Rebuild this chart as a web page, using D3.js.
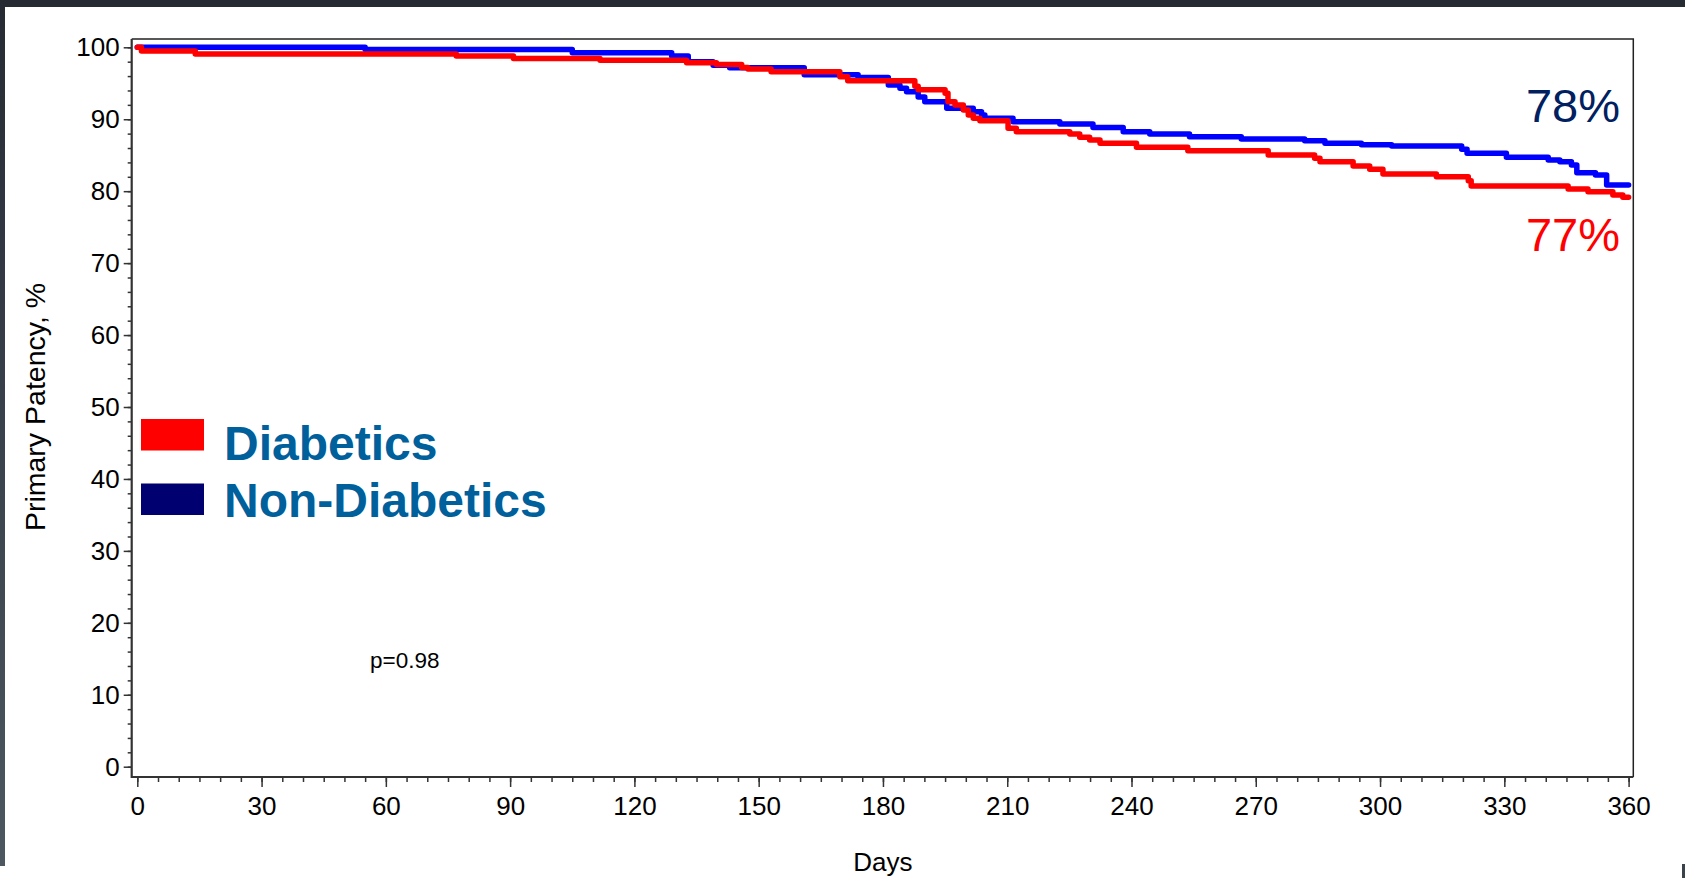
<!DOCTYPE html>
<html>
<head>
<meta charset="utf-8">
<script src="https://cdn.jsdelivr.net/npm/d3@7"></script>
<style>
  html, body { margin: 0; padding: 0; background: #fff; overflow: hidden; }
  svg { display: block; }
  text { font-family: "Liberation Sans", Arial, sans-serif; }
</style>
</head>
<body>
<script>
// tick values
var dayTicks = [0, 30, 60, 90, 120, 150, 180, 210, 240, 270, 300, 330, 360];
var pctTicks = [0, 10, 20, 30, 40, 50, 60, 70, 80, 90, 100];

// Kaplan-Meier steps (day where the step starts, patency %)
var nonDiabeticDays = [0, 55, 105, 129, 133, 139, 143, 161, 174, 181.3, 184.1, 185.7, 188.5, 190.1, 195.4, 201.8, 203.8, 204.6, 211.4, 222.7,
  230.7, 238, 244.4, 254, 266.5, 281.8, 286.7, 295.5, 302.8, 319.7, 321, 330.5, 340.6, 343.4, 346.2, 347.5, 352, 354.7, 360];
var nonDiabeticPct = [100, 99.7, 99.25, 98.8, 98.0, 97.5, 97.15, 96.2, 95.8, 94.76, 94.3, 93.83, 93.1, 92.44, 91.52, 91.05, 90.6, 90.13, 89.66, 89.34,
  88.85, 88.27, 87.95, 87.57, 87.25, 87.0, 86.65, 86.46, 86.28, 85.82, 85.26, 84.7, 84.33, 84.1, 83.64, 82.57, 82.25, 80.86, 80.86];

var diabeticDays = [0, 1, 14, 77, 90.8, 111.7, 132.6, 139.8, 145.9, 147.4, 153, 169.6, 171.5, 187.7, 188.5, 195, 195.7, 197.4, 199.4, 200.6,
  201.8, 203.4, 210.2, 212.2, 225.1, 227.5, 229.9, 232.4, 241.2, 253.6, 273, 284.2, 285.5, 293.5, 297.5, 300.7, 313.6, 321.3, 322, 345.4,
  350.2, 356.2, 358.6, 360];
var diabeticPct = [100, 99.5, 99.07, 98.8, 98.45, 98.2, 97.86, 97.6, 97.2, 97.0, 96.6, 95.9, 95.36, 94.6, 94.1, 93.6, 92.44, 91.98, 91.3, 90.6,
  90.13, 89.8, 88.74, 88.27, 87.95, 87.5, 87.1, 86.65, 86.1, 85.63, 85.03, 84.57, 84.1, 83.5, 83.04, 82.39, 82.0, 81.46, 80.72, 80.3,
  79.93, 79.47, 79.15, 79.15];

var legendNames = ["Diabetics", "Non-Diabetics"];
var legendColors = ["#ff0000", "#000070"];
var endLabels = ["77%", "78%"];
var pValueText = "p=0.98";

var width = 1685, height = 878;

var svg = d3
  .select("body")
  .append("svg")
  .attr("width", width)
  .attr("height", height);

// dark window edges around the slide
var grad = svg.append("defs").append("linearGradient")
  .attr("id", "edge")
  .attr("x1", 0).attr("y1", 0).attr("x2", 0).attr("y2", 1);
grad.append("stop").attr("offset", "0%").attr("stop-color", "#262b33");
grad.append("stop").attr("offset", "100%").attr("stop-color", "#4c5762");
svg.append("rect").attr("x", 0).attr("y", 0).attr("width", width).attr("height", 7).style("fill", "#262b33");
svg.append("rect").attr("x", 0).attr("y", 0).attr("width", 5).attr("height", 866).style("fill", "url(#edge)");
svg.append("rect").attr("x", 1682).attr("y", 864).attr("width", 3).attr("height", 14).style("fill", "#3a424b");

// scales
var x = d3.scaleLinear().domain([0, 360]).range([137.3, 1628.6]);
var y = d3.scaleLinear().domain([0, 100]).range([766.7, 47.3]);

var frame = { left: 131.7, top: 39, right: 1633.3, bottom: 777 };

// top and right border
svg.append("path")
  .attr("d", "M" + frame.left + "," + frame.top + "H" + frame.right + "V" + frame.bottom)
  .style("fill", "none")
  .style("stroke", "#222")
  .style("stroke-width", 1.5);

// y axis: minor then major ticks
svg.append("g")
  .attr("transform", "translate(" + frame.left + ",0)")
  .call(d3.axisLeft(y).tickValues(d3.range(0, 101, 2)).tickSize(4).tickFormat(""))
  .call(function (g) { g.select(".domain").remove(); })
  .selectAll("line").style("stroke", "#333").style("stroke-width", 1.5);

var yAxis = svg.append("g")
  .attr("transform", "translate(" + frame.left + ",0)")
  .call(d3.axisLeft(y).tickValues(pctTicks).tickSize(8).tickPadding(4))
  .call(function (g) { g.select(".domain").remove(); });
yAxis.selectAll("line").style("stroke", "#333").style("stroke-width", 1.5);
yAxis.selectAll("text")
  .style("font-family", "'Liberation Sans', Arial, sans-serif")
  .style("font-size", "26px")
  .style("fill", "#000");

// x axis
svg.append("g")
  .attr("transform", "translate(0," + frame.bottom + ")")
  .call(d3.axisBottom(x).tickValues(d3.range(0, 361, 5)).tickSize(5).tickFormat(""))
  .call(function (g) { g.select(".domain").remove(); })
  .selectAll("line").style("stroke", "#333").style("stroke-width", 1.5);

var xAxis = svg.append("g")
  .attr("transform", "translate(0," + frame.bottom + ")")
  .call(d3.axisBottom(x).tickValues(dayTicks).tickSize(10).tickPadding(10))
  .call(function (g) { g.select(".domain").remove(); });
xAxis.selectAll("line").style("stroke", "#333").style("stroke-width", 1.5);
xAxis.selectAll("text")
  .style("font-family", "'Liberation Sans', Arial, sans-serif")
  .style("font-size", "26px")
  .style("fill", "#000");

// left and bottom axis lines
svg.append("path")
  .attr("d", "M" + frame.left + "," + frame.top + "V" + frame.bottom + "H" + frame.right)
  .style("fill", "none")
  .style("stroke", "#333")
  .style("stroke-width", 2.2);

// axis titles
svg.append("text")
  .attr("x", x(180))
  .attr("y", 871)
  .style("text-anchor", "middle")
  .style("font-size", "26px")
  .text("Days");

svg.append("text")
  .attr("transform", "translate(45," + (y(50)) + ") rotate(-90)")
  .style("text-anchor", "middle")
  .style("font-size", "28.5px")
  .text("Primary Patency, %");

// survival curves
var line = d3.line()
  .x(function (d) { return x(d[0]); })
  .y(function (d) { return y(d[1]); })
  .curve(d3.curveStepAfter);

svg.append("path")
  .datum(d3.zip(nonDiabeticDays, nonDiabeticPct))
  .attr("d", line)
  .style("fill", "none")
  .style("stroke", "#0000ff")
  .style("stroke-width", 5.5)
  .style("stroke-linecap", "round")
  .style("stroke-linejoin", "round");

svg.append("path")
  .datum(d3.zip(diabeticDays, diabeticPct))
  .attr("d", line)
  .style("fill", "none")
  .style("stroke", "#ff0000")
  .style("stroke-width", 5.5)
  .style("stroke-linecap", "round")
  .style("stroke-linejoin", "round");

// legend
var legend = svg.append("g");
legend.selectAll("rect")
  .data(legendNames)
  .enter()
  .append("rect")
  .attr("x", 141)
  .attr("y", function (d, i) { return 419 + i * 64.5; })
  .attr("width", 63)
  .attr("height", 31.5)
  .style("fill", function (d, i) { return legendColors[i]; });
legend.selectAll("text")
  .data(legendNames)
  .enter()
  .append("text")
  .attr("x", 224)
  .attr("y", function (d, i) { return 460 + i * 57; })
  .style("font-size", "48px")
  .style("font-weight", "bold")
  .style("fill", "#00609c")
  .text(function (d) { return d; });

// end-of-year percentages
svg.append("text")
  .attr("x", 1620)
  .attr("y", 122)
  .style("text-anchor", "end")
  .style("font-size", "47px")
  .style("fill", "#002060")
  .text(endLabels[1]);

svg.append("text")
  .attr("x", 1620)
  .attr("y", 251)
  .style("text-anchor", "end")
  .style("font-size", "47px")
  .style("fill", "#ff0000")
  .text(endLabels[0]);

// p value
svg.append("text")
  .attr("x", 370)
  .attr("y", 668)
  .style("font-size", "22.5px")
  .style("fill", "#000")
  .text(pValueText);
</script>
</body>
</html>
